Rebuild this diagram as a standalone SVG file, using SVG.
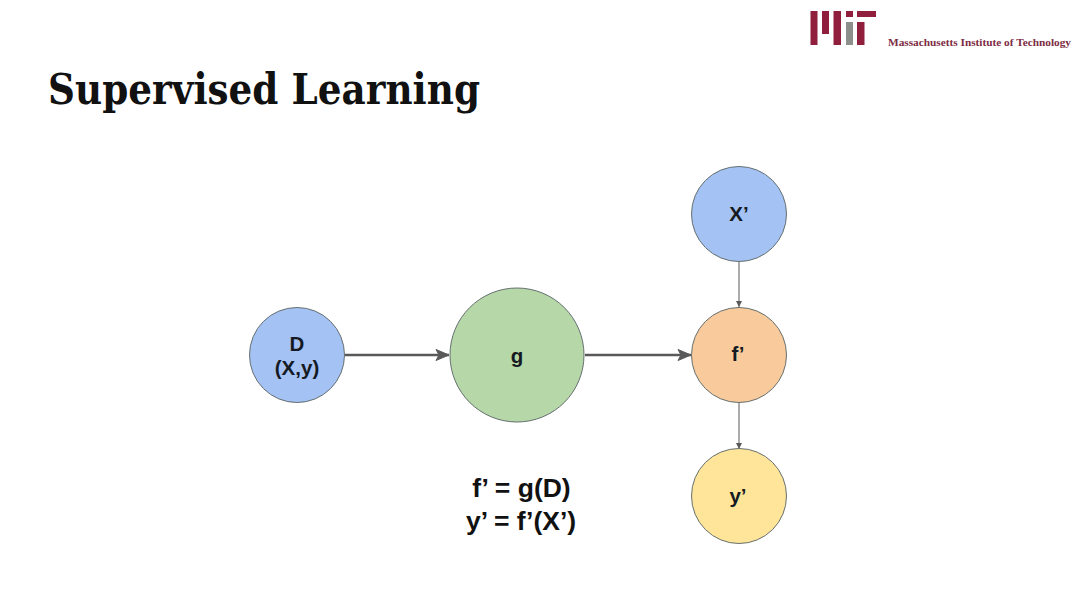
<svg xmlns="http://www.w3.org/2000/svg" width="1080" height="608" viewBox="0 0 1080 608">
<style>
.n{stroke:#667070;stroke-width:1}
.t{font-family:"Liberation Sans",Arial,sans-serif;font-size:20.5px;fill:#151a22;text-anchor:middle;font-weight:700}
.f{font-family:"Liberation Sans",Arial,sans-serif;font-size:26.5px;fill:#111;text-anchor:middle;font-weight:700}
.c{fill:none;stroke:#595959}
.m{fill:#8f1f3c}
</style>
<defs>
<marker id="a" markerUnits="userSpaceOnUse" markerWidth="16" markerHeight="14" refX="15" refY="7" orient="auto"><path d="M2 1.5L15 7L2 12.5L5 7z" fill="#595959" stroke="#595959" stroke-width="1"/></marker>
<marker id="b" markerUnits="userSpaceOnUse" markerWidth="8" markerHeight="8" refX="7" refY="4" orient="auto"><path d="M1 1L7 4L1 7z" fill="#595959"/></marker>
</defs>
<rect width="1080" height="608" fill="#fff"/>
<g id="logo">
<rect class="m" x="810.500" y="11" width="7" height="34"/>
<rect class="m" x="822" y="11" width="7" height="23"/>
<rect class="m" x="833.500" y="11" width="7.500" height="34"/>
<rect class="m" x="846" y="11" width="7" height="6"/>
<rect x="846" y="22" width="7" height="23" fill="#8c8f8c"/>
<rect class="m" x="857" y="11" width="19" height="6"/>
<rect class="m" x="857" y="22" width="7.500" height="23"/>
<text x="888" y="46" font-family="'Liberation Serif',serif" font-size="10" font-weight="700" fill="#7d2c44" textLength="183" lengthAdjust="spacingAndGlyphs">Massachusetts Institute of Technology</text>
</g>
<text x="48" y="104" font-family="'DejaVu Serif','Liberation Serif',serif" font-size="43" font-weight="700" fill="#111" textLength="432" lengthAdjust="spacingAndGlyphs">Supervised Learning</text>
<g id="connectors">
<path class="c" stroke-width="2.500" d="M345 355H449" marker-end="url(#a)"/>
<path class="c" stroke-width="2.500" d="M585 355H691" marker-end="url(#a)"/>
<path class="c" stroke-width="1" d="M739 262V307" marker-end="url(#b)"/>
<path class="c" stroke-width="1" d="M739 403V449" marker-end="url(#b)"/>
</g>
<g id="node-D"><circle class="n" cx="297" cy="355" r="47.500" fill="#a4c2f4"/><text class="t" x="297" y="351">D</text><text class="t" x="297" y="375">(X,y)</text></g>
<g id="node-g"><circle class="n" cx="517" cy="355" r="67" fill="#b6d7a8"/><text class="t" x="517" y="363">g</text></g>
<g id="node-X"><circle class="n" cx="739" cy="214" r="47.500" fill="#a4c2f4"/><text class="t" x="739" y="221">X’</text></g>
<g id="node-f"><circle class="n" cx="739" cy="355" r="47.500" fill="#f9cb9c"/><text class="t" x="738" y="361">f’</text></g>
<g id="node-y"><circle class="n" cx="739" cy="496" r="47.500" fill="#ffe599"/><text class="t" x="738" y="503">y’</text></g>
<g id="formula"><text class="f" x="521.500" y="497">f’ = g(D)</text><text class="f" x="521" y="530">y’ = f’(X’)</text></g>
</svg>
